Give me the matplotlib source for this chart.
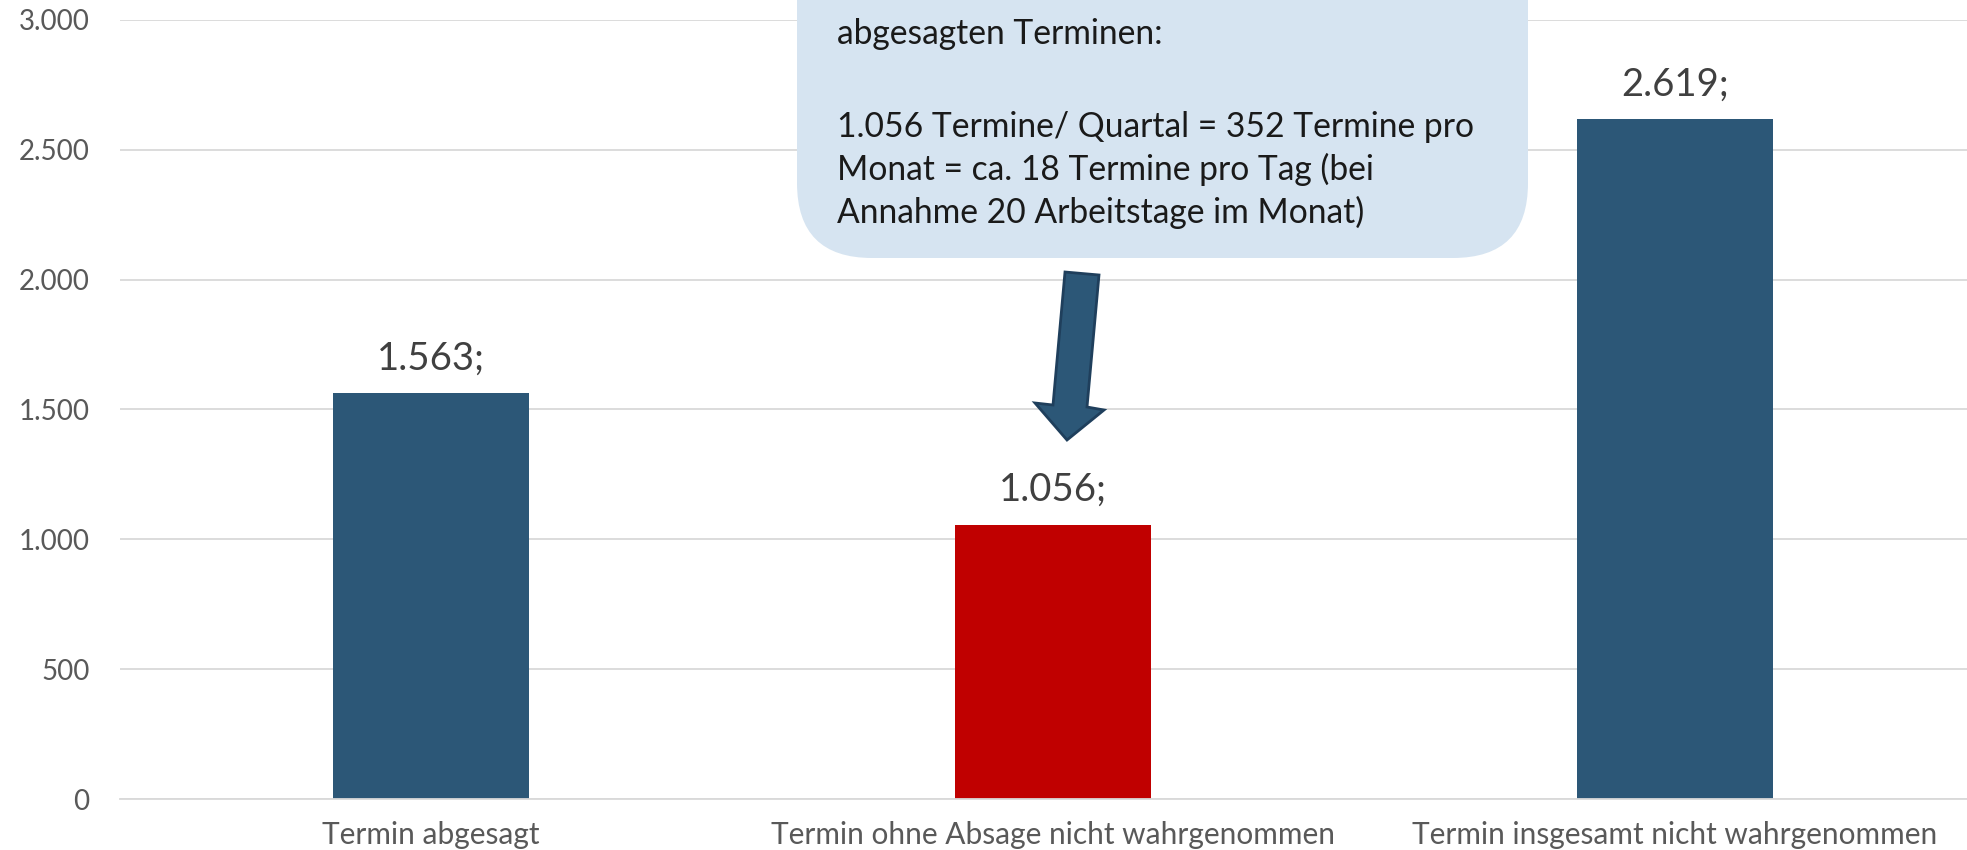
import matplotlib
matplotlib.use("Agg")
import matplotlib.pyplot as plt
from matplotlib.patches import FancyBboxPatch, Polygon

plt.rcParams['font.family'] = ['Lato', 'DejaVu Sans']

categories = ["Termin abgesagt",
              "Termin ohne Absage nicht wahrgenommen",
              "Termin insgesamt nicht wahrgenommen"]
values = [1563, 1056, 2619]
bar_colors = ["#2C5777", "#C00000", "#2C5777"]
yticks = [0, 500, 1000, 1500, 2000, 2500, 3000]

callout_lines = ["abgesagten Terminen:",
                 "",
                 "1.056 Termine/ Quartal = 352 Termine pro",
                 "Monat = ca. 18 Termine pro Tag (bei",
                 "Annahme 20 Arbeitstage im Monat)"]

def de_fmt(v):
    return f"{v:,}".replace(",", ".")

W, H = 1967, 850
fig = plt.figure(figsize=(W / 100, H / 100), dpi=100)
ax = fig.add_axes([120 / W, 1 - 799 / H, 1866 / W, (799 - 20) / H])

x = list(range(len(categories)))
ax.bar(x, values, width=0.3145, color=bar_colors, zorder=2)
ax.set_xlim(-0.5, 2.5)
ax.set_ylim(0, 3000)
ax.set_yticks(yticks)
ax.set_yticklabels([de_fmt(t) for t in yticks], fontsize=20, color="#595959")
ax.set_xticks(x)
ax.set_xticklabels(categories, fontsize=21.5, color="#595959")
ax.tick_params(axis='both', length=0)
ax.tick_params(axis='y', pad=22)
ax.tick_params(axis='x', pad=16)
ax.grid(axis='y', color="#D9D9D9", linewidth=1.3, zorder=0)
for s in ["top", "right", "left"]:
    ax.spines[s].set_visible(False)
ax.spines["bottom"].set_color("#D9D9D9")
ax.spines["bottom"].set_linewidth(1.3)

for xi, v in zip(x, values):
    ax.annotate(de_fmt(v) + ";", (xi, v), xytext=(0, 12), textcoords="offset points",
                ha="center", va="bottom", fontsize=27.5, color="#404040", zorder=3)

# overlay in pixel coordinates
ov = fig.add_axes([0, 0, 1, 1], zorder=5)
ov.set_xlim(0, W)
ov.set_ylim(H, 0)
ov.axis("off")
ov.patch.set_alpha(0)

box = FancyBboxPatch((797, -120), 1528 - 797, 258 + 120,
                     boxstyle="round,pad=0,rounding_size=75",
                     facecolor="#D6E4F1", edgecolor="none")
ov.add_patch(box)

line_y = [34, 76, 127, 169, 212]
for ly, t in zip(line_y, callout_lines):
    if t:
        ov.text(837, ly, t, fontsize=24.2, color="#1A1A1A", ha="left", va="center")

arrow = Polygon([(1065, 272), (1099, 275), (1087, 407), (1104, 410),
                 (1067, 440), (1035, 403), (1053, 405)], closed=True,
                facecolor="#2C5777", edgecolor="#1F3F5C", linewidth=2)
ov.add_patch(arrow)

fig.savefig("out.png", dpi=100)
